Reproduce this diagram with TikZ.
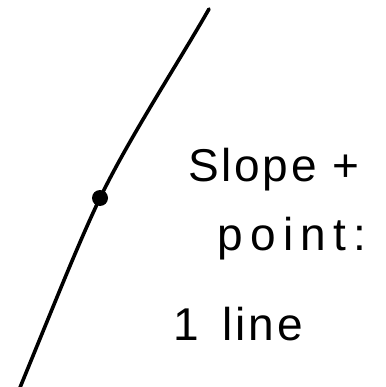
\documentclass[tikz,border=0pt]{standalone}
\usepackage{fontspec}
\setmainfont{Liberation Sans}
\newfontfamily\handfont[LetterSpace=6]{Liberation Sans}
\newfontfamily\handwide[LetterSpace=16]{Liberation Sans}
\begin{document}
\begin{tikzpicture}[x=1pt,y=-1pt,
  hand/.style={line width=3.6pt,line cap=round,line join=round,black},
  label/.style={anchor=base west,inner sep=0pt}]
\useasboundingbox (0,0) rectangle (385,387);
\coordinate (a) at (19,390);
\coordinate (p) at (100,198);
\coordinate (b) at (209,9);
\draw[hand] (a) .. controls (60,290) and (79,242) .. (p) .. controls (129,138) and (180,60) .. (b);
\fill (p) circle (8);
\node[label,font=\fontsize{46}{50}\handfont] (t1) at (188,182) {Slope +};
\node[label,font=\fontsize{46}{50}\handwide] (t2) at (217,250) {point:};
\node[label,font=\fontsize{46}{50}\handfont] (t3) at (173,340) {1\hspace{24pt}line};
\end{tikzpicture}
\end{document}
